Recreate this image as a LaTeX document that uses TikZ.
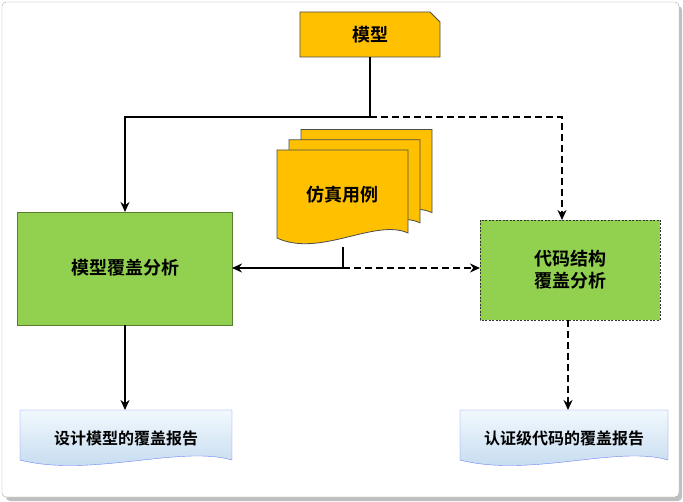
\documentclass[tikz,border=0pt]{standalone}
\usepackage{fontspec}
\newfontfamily\cjk{Noto Sans CJK SC}[BoldFont={Noto Sans CJK SC Bold}]
\usetikzlibrary{arrows.meta}
\definecolor{yel}{HTML}{FFC000}
\definecolor{grn}{HTML}{92D050}
\definecolor{lb1}{HTML}{F2F8FD}
\definecolor{lb2}{HTML}{BDD7EE}
\begin{document}
\begin{tikzpicture}[x=1pt,y=-1pt,
  conn/.style={line width=2pt,-{Stealth[length=10pt,width=9pt]}},
  dconn/.style={conn,dash pattern=on 7pt off 4pt},
  txt/.style={font=\cjk\bfseries\fontsize{18}{22}\selectfont,align=center},
  docy/.style={fill=yel,draw=black!70,line width=0.8pt}]
\useasboundingbox (0,0) rectangle (683,502);
\fill[gray!50,rounded corners=4pt] (6,6) rectangle (682,501);
\draw[gray!70,fill=white,rounded corners=4pt] (2,2) rectangle (679,497);
% model
\draw[docy] (300,12) -- (430,12) -- (440,22) -- (440,57) -- (300,57) -- cycle;
\node[txt] (model) at (370,35) {模型};
% simulation stack
\foreach \d in {24,12}{
 \draw[docy,shift={(\d,-\d*0.85)}] (277,150) -- (408,150) -- (408,233) .. controls (375,218) and (320,258) .. (277,238) -- cycle;}
\draw[docy] (277,150) -- (408,150) -- (408,233) .. controls (375,218) and (320,258) .. (277,238) -- cycle;
\node[txt] (sim) at (342,195) {仿真用例};
\coordinate (simb) at (343,247);
% boxes
\draw[fill=grn,draw=grn!60!black,line width=0.8pt] (17,212) rectangle (232,325);
\node[txt] (mca) at (125,268) {模型覆盖分析};
\draw[fill=grn,draw=black!80,dash pattern=on 2pt off 1.5pt,line width=0.8pt] (480,220) rectangle (660,320);
\node[txt] (csa) at (570,270) {代码结构\\覆盖分析};
% reports
\shade[top color=lb1,bottom color=lb2,draw=lb2!60!blue] (20,410) -- (232,410) -- (232,460) .. controls (180,445) and (90,478) .. (20,460) -- cycle;
\node[txt,font=\cjk\bfseries\fontsize{16}{19}\selectfont] (r1) at (126,438) {设计模型的覆盖报告};
\shade[top color=lb1,bottom color=lb2,draw=lb2!60!blue] (460,410) -- (668,410) -- (668,460) .. controls (618,445) and (530,478) .. (460,460) -- cycle;
\node[txt,font=\cjk\bfseries\fontsize{16}{19}\selectfont] (r2) at (564,438) {认证级代码的覆盖报告};
% connectors
\coordinate (j1) at (370,117);
\coordinate (mcat) at (125,212);
\coordinate (csat) at (562,220);
\draw[line width=2pt] (370,57) -- (j1);
\draw[conn] (j1) -| (mcat);
\draw[dconn] (j1) -| (csat);
\coordinate (j2) at (343,268);
\draw[line width=2pt] (simb) -- (j2);
\draw[conn] (j2) -- (232,268);
\draw[dconn] (j2) -- (480,268);
\draw[conn] (125,325) -- (125,410);
\draw[dconn] (568,320) -- (568,410);
\end{tikzpicture}
\end{document}
